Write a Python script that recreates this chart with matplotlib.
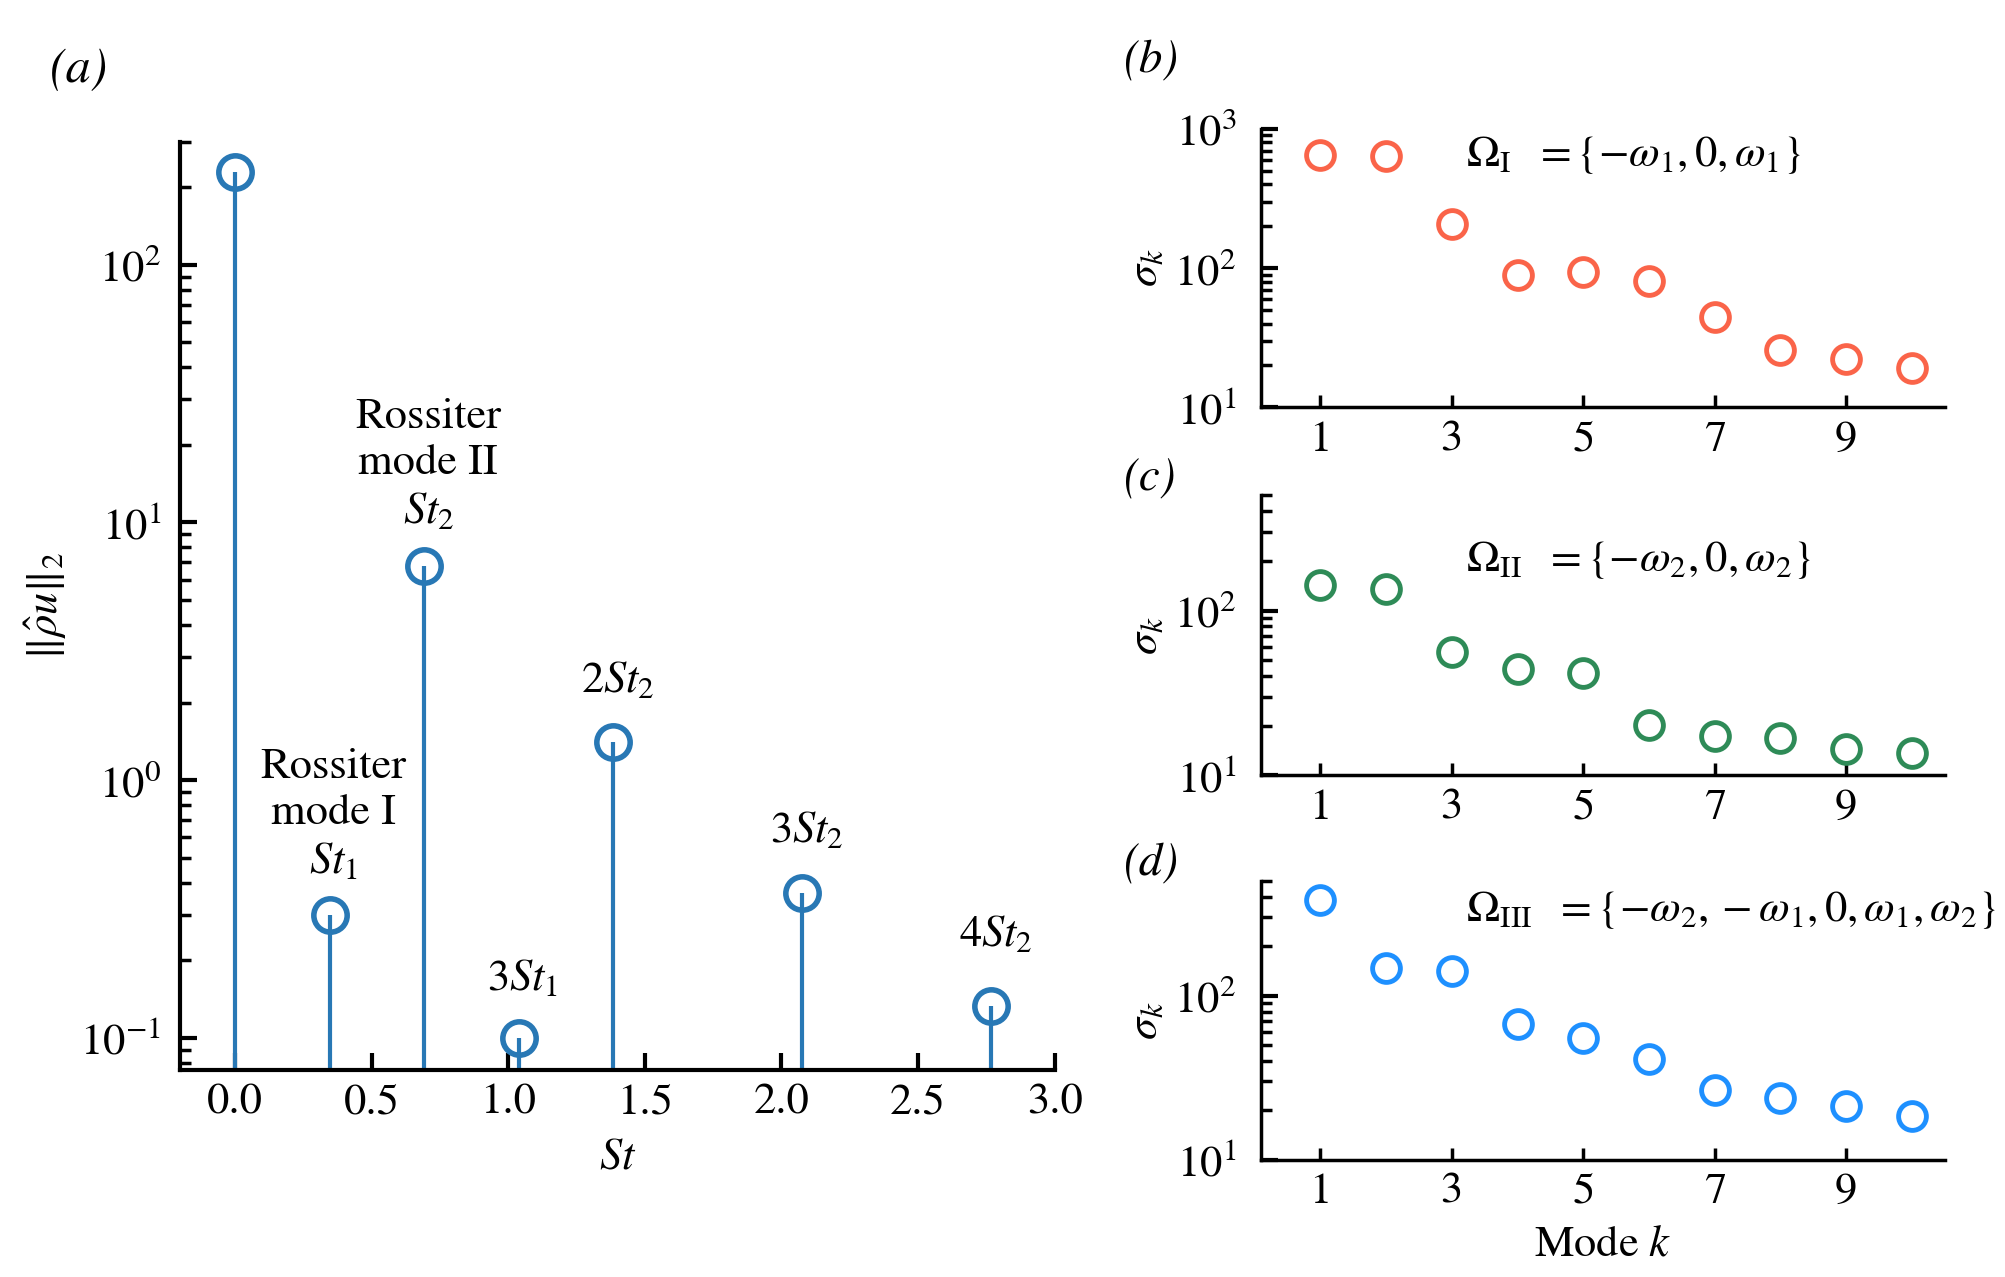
import numpy as np
import matplotlib
matplotlib.use("Agg")
import matplotlib.pyplot as plt

plt.rcParams['font.family'] = 'serif'
plt.rcParams['font.serif'] = ['STIXGeneral', 'Liberation Serif', 'DejaVu Serif']
plt.rcParams['mathtext.fontset'] = 'stix'

# panel (a): spectrum peaks
st_freq = [0.0, 0.346, 0.692, 1.038, 1.384, 2.076, 2.768]
st_norm = [228, 0.30, 6.8, 0.10, 1.41, 0.365, 0.133]
st_labels = ['', 'Rossiter\nmode I\n$St_1$', 'Rossiter\nmode II\n$St_2$',
             '$3St_1$', '$2St_2$', '$3St_2$', '$4St_2$']

# panels (b)-(d): singular values
modes = np.arange(1, 11)
sigma_I = [653, 636, 207, 89, 94, 81, 44.5, 26, 22.2, 19.3]
sigma_II = [142, 135, 55.7, 44.2, 41.6, 20.1, 17.2, 16.9, 14.4, 13.6]
sigma_III = [382, 147, 141, 67, 54.8, 41.3, 26.4, 23.6, 21.2, 18.4]
omega_labels = [r'$\Omega_{\rm I}\ \ = \{-\omega_1, 0, \omega_1\}$',
                r'$\Omega_{\rm II}\ \ = \{-\omega_2, 0, \omega_2\}$',
                r'$\Omega_{\rm III}\ \ = \{-\omega_2, -\omega_1, 0, \omega_1, \omega_2\}$']

FS = 32
blue = '#2878b5'


def style_axes(ax, ypad=12):
    for s in ['top', 'right']:
        ax.spines[s].set_visible(False)
    for s in ['left', 'bottom']:
        ax.spines[s].set_linewidth(3)
    ax.tick_params(which='major', direction='in', length=12, width=3,
                   labelsize=FS, pad=10)
    ax.tick_params(axis='y', which='major', pad=ypad)
    ax.tick_params(which='minor', direction='in', length=8, width=2.5)


fig = plt.figure(figsize=(20.05, 12.77), dpi=100)

# (a)
ax = fig.add_axes([0.090, 0.162, 0.436, 0.727])
ml, sl, bl = ax.stem(st_freq, st_norm, bottom=0.01, basefmt=' ')
plt.setp(sl, color=blue, linewidth=3)
plt.setp(ml, marker='o', markersize=24, markerfacecolor='none',
         markeredgecolor=blue, markeredgewidth=4, zorder=3)
ax.set_yscale('log')
ax.set_ylim(0.075, 300)
ax.set_xlim(-0.2, 3.0)
ax.set_xticks([0.0, 0.5, 1.0, 1.5, 2.0, 2.5, 3.0])
ax.set_xticklabels(['0.0', '0.5', '1.0', '1.5', '2.0', '2.5', '3.0'])
style_axes(ax, ypad=14)
ax.tick_params(axis='x', which='minor', bottom=False)
ax.set_xlabel('$St$', fontsize=FS, labelpad=12)
ax.set_ylabel(r'$\|\hat{\rho} u\|_2$', fontsize=FS, labelpad=8)
label_offsets = [0, 24, 24, 28, 29, 30, 37]
for x, y, lab, off in zip(st_freq, st_norm, st_labels, label_offsets):
    if lab:
        ax.annotate(lab, (x, y), xytext=(3, off), textcoords='offset points',
                    ha='center', va='bottom', fontsize=FS, linespacing=1.25)
fig.text(0.025, 0.945, '(a)', fontsize=FS + 4, style='italic', va='center')

# (b)-(d)
right_boxes = [[0.629, 0.681, 0.341, 0.218],
               [0.629, 0.393, 0.341, 0.219],
               [0.629, 0.092, 0.341, 0.218]]
series = [sigma_I, sigma_II, sigma_III]
colors = ['#fa6449', '#2e8b57', '#1e90ff']
ylims = [(10, 1000), (10, 500), (10, 500)]
panel_names = ['(b)', '(c)', '(d)']
panel_y = [0.952, 0.625, 0.323]
text_y = [0.905, 0.77, 0.895]

for box, vals, col, yl, name, py, ty, om in zip(right_boxes, series, colors,
                                                ylims, panel_names, panel_y,
                                                text_y, omega_labels):
    axr = fig.add_axes(box)
    axr.plot(modes, vals, 'o', markersize=20, markerfacecolor='none',
             markeredgecolor=col, markeredgewidth=3.5, linestyle='none')
    axr.set_yscale('log')
    axr.set_ylim(*yl)
    axr.set_xlim(0.1, 10.5)
    axr.set_xticks([1, 3, 5, 7, 9])
    style_axes(axr, ypad=18)
    axr.tick_params(axis='x', which='major', length=9, width=2.5)
    axr.spines['left'].set_linewidth(2.5)
    axr.spines['bottom'].set_linewidth(2.5)
    axr.set_ylabel(r'$\sigma_k$', fontsize=FS, labelpad=6)
    axr.text(0.30, ty, om, transform=axr.transAxes, fontsize=FS,
             ha='left', va='center')
    fig.text(0.560, py, name, fontsize=FS + 2, style='italic', va='center')
    if name == '(d)':
        axr.set_xlabel(r'Mode $k$', fontsize=FS, labelpad=10)

fig.savefig('out.png', dpi=100)
